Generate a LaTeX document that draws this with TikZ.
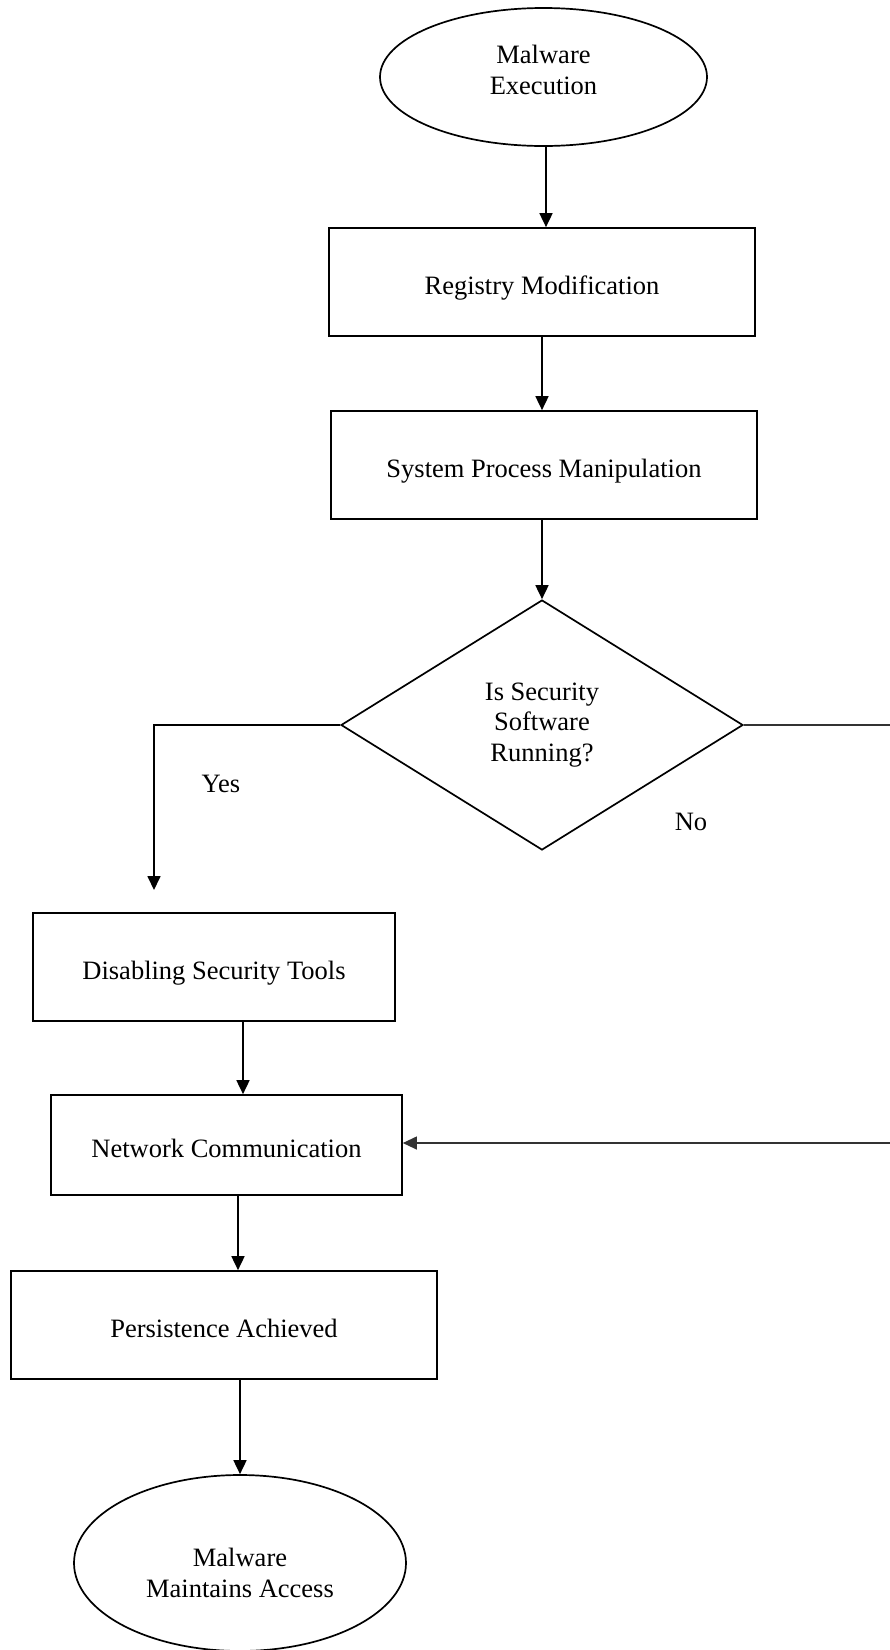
\documentclass[tikz,border=0pt]{standalone}
\usepackage{fontspec}
\setmainfont{Liberation Serif}
\usetikzlibrary{positioning,shapes.geometric,arrows.meta}

\begin{document}
\begin{tikzpicture}[x=1pt,y=-1pt,
		font=\fontsize{26.5}{30.5}\selectfont,
		stepbox/.style={ % rectangular process step
			draw, line width=1.7pt, inner sep=0pt,
			minimum width=426, minimum height=108,
			text height=25pt, text depth=0pt
		},
		terminal/.style={ % start / end oval
			draw, ellipse, line width=1.7pt, inner sep=0pt
		},
		decision/.style={
			draw, diamond, line width=1.7pt, inner sep=0pt,
			minimum width=402, minimum height=250, align=center
		},
		flow/.style={line width=1.7pt, -{Triangle[width=13pt,length=14pt]}},
		thinflow/.style={line width=1.2pt, draw=black!80}
		]
		\useasboundingbox (0,0) rectangle (890,1650);
		
		%% top part
		\node[terminal, minimum width=327, minimum height=138] (start) at (543.5,77) {};
		\node[align=center] (starttxt) at ([yshift=7pt]start.center) {Malware\\Execution};
		\node[stepbox] (reg) at (542,282) {Registry Modification};
		\node[stepbox] (spm) at (544,465) {System Process Manipulation};
		\node[decision] (dec) at (542,725) {Is Security\\Software\\Running?};
		
		%% left branch
		\node[stepbox, minimum width=362] (dis) at (214,967) {Disabling Security Tools};
		\node[stepbox, minimum width=351, minimum height=100] (net) at (226.5,1145) {Network Communication};
		\node[stepbox] (per) at (224,1325) {Persistence Achieved};
		\node[terminal, minimum width=332, minimum height=176] (stop) at (240,1563) {};
		\node[align=center] (stoptxt) at ([yshift=-10pt]stop.center) {Malware\\Maintains Access};
		
		% labels of the two branches
		\node (yes) at (221,784) {Yes};
		\node (no) at (691,822) {No};
		
		\coordinate (yesend) at (154,890);
		\coordinate (noout) at (890,725);
		\coordinate (noin) at (890,1143);
		
		% connectors
		\draw[flow] ([xshift=2.5]start.south) -- ([xshift=2.5]start.south |- reg.north);
		\draw[flow] (reg.south) -- (reg.south |- spm.north);
		\draw[flow] (spm.south -| dec.north) -- (dec.north);
		\draw[flow] (dec.west) -| (yesend);
		\draw[thinflow] (dec.east) -- (noout);
		\draw[thinflow, -{Triangle[width=13pt,length=14pt]}] (noin) -- (noin -| net.east);
		\draw[flow] ([xshift=29]dis.south) -- ([xshift=29]dis.south |- net.north);
		\draw[flow] ([xshift=11.5]net.south) -- ([xshift=11.5]net.south |- per.north);
		\draw[flow] (stop.north |- per.south) -- (stop.north);
\end{tikzpicture}
\end{document}
